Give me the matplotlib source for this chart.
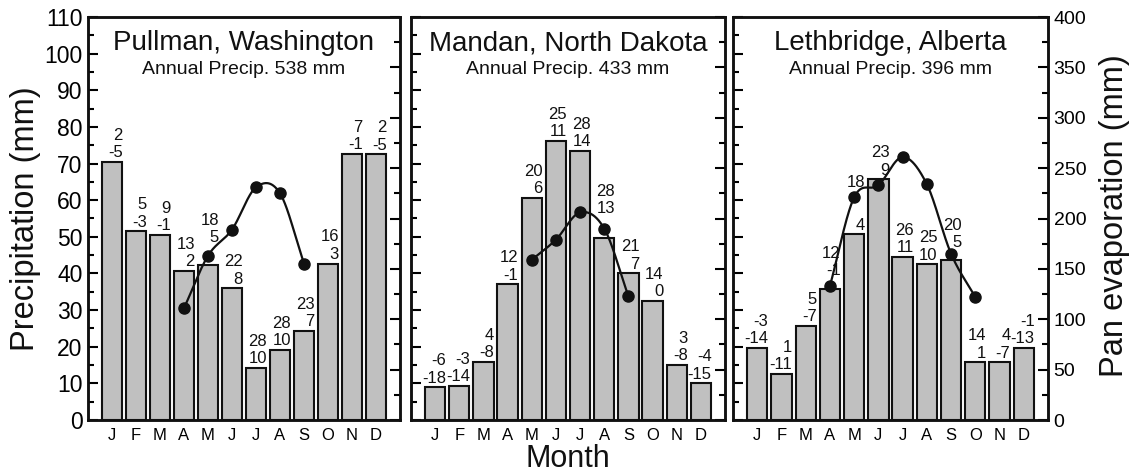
import numpy as np
import matplotlib.pyplot as plt
from matplotlib.ticker import MultipleLocator

plt.rcParams['font.family'] = ['Liberation Sans', 'DejaVu Sans']

months = ['J', 'F', 'M', 'A', 'M', 'J', 'J', 'A', 'S', 'O', 'N', 'D']

sites = ['Pullman, Washington', 'Mandan, North Dakota', 'Lethbridge, Alberta']
annual_precip = [538, 433, 396]

# monthly precipitation (mm)
pullman_precip = [70.5, 51.5, 50.5, 40.7, 42.3, 35.9, 14.3, 19.2, 24.3, 42.7, 72.7, 72.5]
mandan_precip = [8.9, 9.3, 15.9, 37.0, 60.7, 76.2, 73.5, 49.8, 40.0, 32.5, 15.0, 10.0]
lethbridge_precip = [19.6, 12.5, 25.7, 35.8, 50.7, 65.7, 44.5, 42.5, 43.6, 15.7, 15.7, 19.6]

# mean monthly max / min air temperature (C)
pullman_tmax = [2, 5, 9, 13, 18, 22, 28, 28, 23, 16, 7, 2]
pullman_tmin = [-5, -3, -1, 2, 5, 8, 10, 10, 7, 3, -1, -5]
mandan_tmax = [-6, -3, 4, 12, 20, 25, 28, 28, 21, 14, 3, -4]
mandan_tmin = [-18, -14, -8, -1, 6, 11, 14, 13, 7, 0, -8, -15]
lethbridge_tmax = [-3, 1, 5, 12, 18, 23, 26, 25, 20, 14, 4, -1]
lethbridge_tmin = [-14, -11, -7, -1, 4, 9, 11, 10, 5, 1, -7, -13]

# pan evaporation (mm), growing season only (month index 0 = Jan)
pullman_evap_months = [3, 4, 5, 6, 7, 8]
pullman_evap = [111, 163, 189, 231, 225, 155]
mandan_evap_months = [4, 5, 6, 7, 8]
mandan_evap = [159, 179, 206, 190, 123]
lethbridge_evap_months = [3, 4, 5, 6, 7, 8, 9]
lethbridge_evap = [133, 221, 233, 261, 234, 165, 122]

# extra lift (mm) for temperature labels that would sit under the evaporation curve
lift_min = [
    [0, 0, 0, 0, 5.0, 0, 0, 0, 0, 0, 0, 0],
    [0, 0, 0, 0, 0, 0, 0, 5.3, 0, 0, 0, 0],
    [0, 0, 0, 2.4, 0, 0, 0, 0, 2.3, 0, 0, 0],
]
lift_max = [
    [0, 0, 0, 0, 5.0, 0, 0, 0, 0, 0, 0, 0],
    [0, 0, 0, 0, 0, 0, 0, 5.3, 0, 0, 0, 0],
    [0, 0, 0, 2.4, 7.0, 0, 0, 0, 2.3, 0, 0, 0],
]

precip = [pullman_precip, mandan_precip, lethbridge_precip]
tmax = [pullman_tmax, mandan_tmax, lethbridge_tmax]
tmin = [pullman_tmin, mandan_tmin, lethbridge_tmin]
evap_months = [pullman_evap_months, mandan_evap_months, lethbridge_evap_months]
evap = [pullman_evap, mandan_evap, lethbridge_evap]


def smooth_curve(x, y, steps=40):
    # Catmull-Rom through the points, one-sided tangents at the ends
    x = np.asarray(x, float)
    y = np.asarray(y, float)
    m = np.gradient(y, x)
    xs, ys = [], []
    for i in range(len(x) - 1):
        h = x[i + 1] - x[i]
        t = np.linspace(0, 1, steps)
        h00 = 2 * t ** 3 - 3 * t ** 2 + 1
        h10 = t ** 3 - 2 * t ** 2 + t
        h01 = -2 * t ** 3 + 3 * t ** 2
        h11 = t ** 3 - t ** 2
        xs.append(x[i] + t * h)
        ys.append(h00 * y[i] + h10 * h * m[i] + h01 * y[i + 1] + h11 * h * m[i + 1])
    return np.concatenate(xs), np.concatenate(ys)


fig = plt.figure(figsize=(11.35, 4.73), dpi=100)

lefts = [88, 411, 733]
widths = [312, 314, 315]
x = np.arange(12)
ink = '#111111'

for p in range(3):
    ax = fig.add_axes([lefts[p] / 1135, 53 / 473, widths[p] / 1135, 403 / 473])
    ax.bar(x, precip[p], width=0.84, color='#c0c0c0', edgecolor=ink,
           linewidth=1.5, zorder=2)

    for i in range(12):
        base = precip[p][i]
        ax.annotate(str(tmin[p][i]), xy=(i + 0.45, base + lift_min[p][i]),
                    xytext=(0, 3.4), textcoords='offset points',
                    ha='right', va='baseline', fontsize=12, color=ink, zorder=3)
        ax.annotate(str(tmax[p][i]), xy=(i + 0.45, base + lift_max[p][i]),
                    xytext=(0, 3.4 + 12.5), textcoords='offset points',
                    ha='right', va='baseline', fontsize=12, color=ink, zorder=3)

    ax.set_xlim(-1, 12)
    ax.set_ylim(0, 110)
    ax.set_xticks(x)
    ax.set_xticklabels(months, fontsize=12)
    ax.tick_params(axis='x', length=0, pad=6)
    ax.yaxis.set_major_locator(MultipleLocator(10))
    ax.yaxis.set_minor_locator(MultipleLocator(5))
    ax.tick_params(axis='y', which='major', direction='in', length=7, width=1.5,
                   labelsize=16.5, labelleft=(p == 0), pad=4)
    ax.tick_params(axis='y', which='minor', direction='in', length=4, width=1.5)
    for s in ax.spines.values():
        s.set_linewidth(1.8)
        s.set_color(ink)

    ax.text(0.5, 0.918, sites[p], transform=ax.transAxes, ha='center',
            va='baseline', fontsize=20, color=ink)
    ax.text(0.5, 0.859, 'Annual Precip. %d mm' % annual_precip[p],
            transform=ax.transAxes, ha='center', va='baseline', fontsize=14,
            color=ink)

    ev = ax.twinx()
    ev.set_ylim(0, 400)
    cx, cy = smooth_curve(evap_months[p], evap[p])
    ev.plot(cx, cy, color=ink, lw=1.6, zorder=4)
    ev.plot(evap_months[p], evap[p], 'o', color=ink, markersize=8, zorder=5)
    ev.yaxis.set_major_locator(MultipleLocator(50))
    ev.yaxis.set_minor_locator(MultipleLocator(25))
    ev.tick_params(axis='y', which='major', direction='in', length=7, width=1.5,
                   labelsize=14, labelright=(p == 2), pad=4)
    ev.tick_params(axis='y', which='minor', direction='in', length=4, width=1.5)
    for s in ev.spines.values():
        s.set_linewidth(1.8)
        s.set_color(ink)

fig.text(25.5 / 1135, 0.537, 'Precipitation (mm)', rotation=90, ha='center',
         va='center', fontsize=23.5, color=ink)
fig.text(1115 / 1135, 0.545, 'Pan evaporation (mm)', rotation=90, ha='center',
         va='center', fontsize=23.5, color=ink)
fig.text(568 / 1135, 6 / 473, 'Month', ha='center', va='baseline', fontsize=22,
         color=ink)

fig.savefig('out.png', dpi=100)
